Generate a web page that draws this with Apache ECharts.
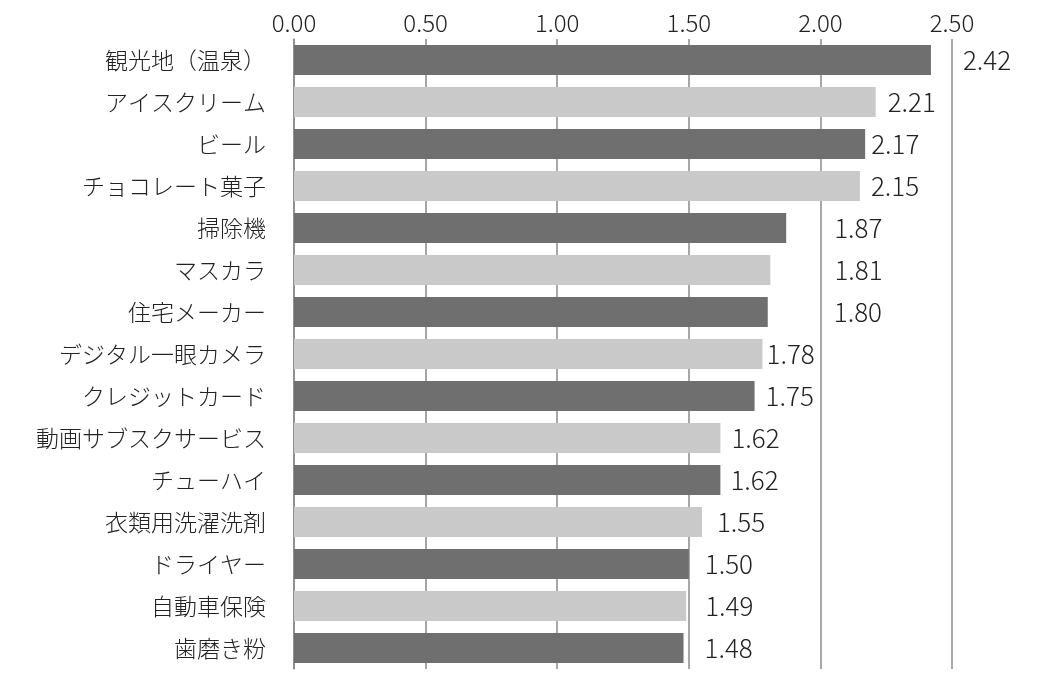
<!DOCTYPE html>
<html>
<head>
<meta charset="utf-8">
<script src="https://cdn.jsdelivr.net/npm/echarts@6/dist/echarts.min.js"></script>
<style>
html,body{margin:0;padding:0;background:#fff;}
#chart{width:1046px;height:686px;}
</style>
</head>
<body>
<div id="chart"></div>
<script>
const categories = ['観光地（温泉）','アイスクリーム','ビール','チョコレート菓子','掃除機','マスカラ','住宅メーカー','デジタル一眼カメラ','クレジットカード','動画サブスクサービス','チューハイ','衣類用洗濯洗剤','ドライヤー','自動車保険','歯磨き粉'];
const values = [2.42,2.21,2.17,2.15,1.87,1.81,1.80,1.78,1.75,1.62,1.62,1.55,1.50,1.49,1.48];
const axisMin = 0, axisMax = 2.5, axisStep = 0.5;

// label gap (px) from bar end, per row, as in the reference layout
const labelGap = [32,12,6,11,48,64,66,4,11,11,10,15,16,19,21];
const darkColor = '#6f6f6f', lightColor = '#c9c9c9';
const fontFam = '"Noto Sans CJK JP","Noto Sans",sans-serif';

const chart = echarts.init(document.getElementById('chart'));
chart.setOption({
  animation: false,
  backgroundColor: '#fff',
  grid: {left: 294, top: 39, right: 94, bottom: 17, containLabel: false},
  xAxis: {
    type: 'value', position: 'top', min: axisMin, max: axisMax, interval: axisStep,
    axisLine: {show: false}, axisTick: {show: false},
    axisLabel: {formatter: v => v.toFixed(2), fontSize: 24, fontWeight: 300, color: '#222', fontFamily: fontFam, margin: 4},
    splitLine: {show: true, lineStyle: {color: '#8a8a8a', width: 1.5}}
  },
  yAxis: {
    type: 'category', data: categories, inverse: true,
    axisLine: {show: true, lineStyle: {color: '#8a8a8a', width: 1.5}},
    axisTick: {show: false},
    axisLabel: {fontSize: 23, fontWeight: 300, color: '#222', fontFamily: fontFam, margin: 28}
  },
  series: [{
    type: 'bar',
    barCategoryGap: '28%',
    data: values.map((v, i) => ({
      value: v,
      itemStyle: {color: i % 2 === 0 ? darkColor : lightColor},
      label: {distance: labelGap[i]}
    })),
    label: {
      show: true, position: 'right', formatter: p => p.value.toFixed(2),
      fontSize: 26, fontWeight: 300, color: '#222', fontFamily: fontFam
    }
  }]
});
</script>
</body>
</html>
